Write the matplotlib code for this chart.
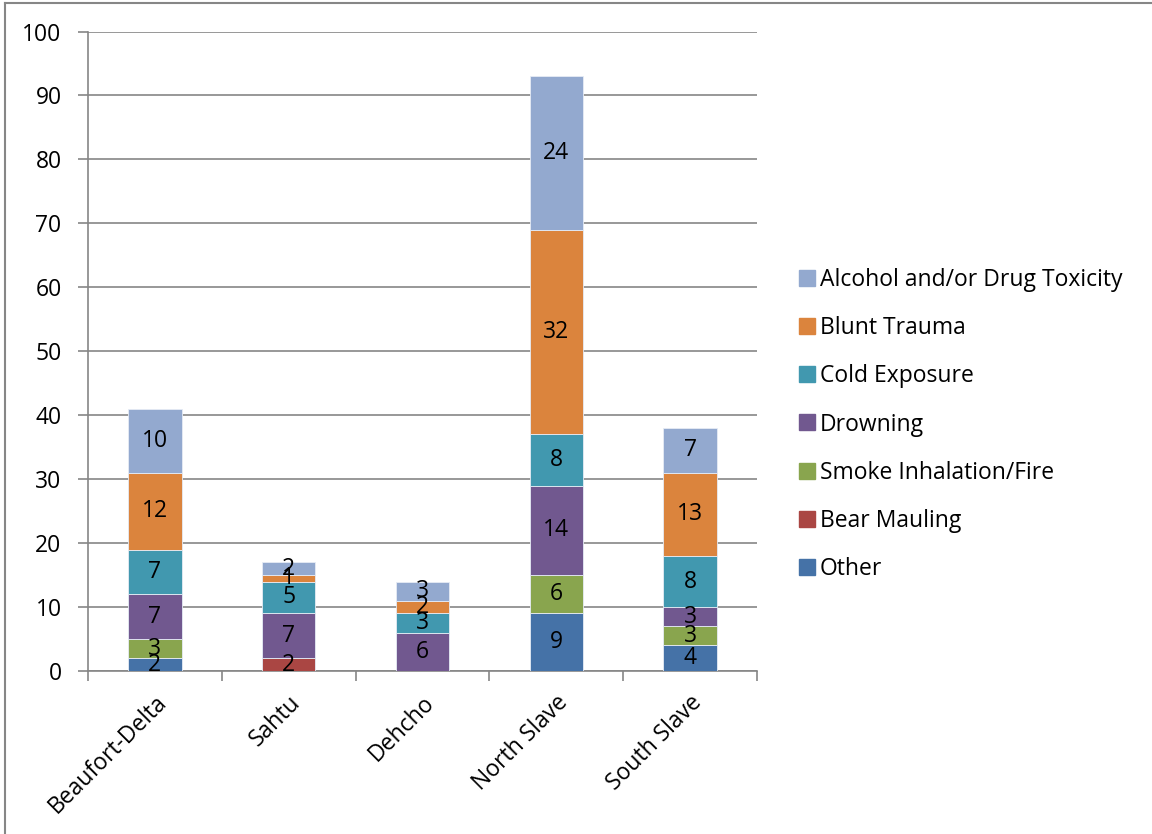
import numpy as np
import matplotlib

matplotlib.use("Agg")
import matplotlib.pyplot as plt
from matplotlib.lines import Line2D

plt.rcParams["font.family"] = ["Open Sans", "DejaVu Sans"]

# regions and causes
regions = ["Beaufort-Delta", "Sahtu", "Dehcho", "North Slave", "South Slave"]
causes = [
    "Other",
    "Bear Mauling",
    "Smoke Inhalation/Fire",
    "Drowning",
    "Cold Exposure",
    "Blunt Trauma",
    "Alcohol and/or Drug Toxicity",
]
other = [2, 0, 0, 9, 4]
bear = [0, 2, 0, 0, 0]
smoke = [3, 0, 0, 6, 3]
drowning = [7, 7, 6, 14, 3]
cold = [7, 5, 3, 8, 8]
blunt = [12, 1, 2, 32, 13]
alcohol = [10, 2, 3, 24, 7]

series = [other, bear, smoke, drowning, cold, blunt, alcohol]
colors = ["#4572A7", "#AA4643", "#89A54E", "#71588F", "#4198AF", "#DB843D", "#93A9CF"]

FS = 16.5

fig = plt.figure(figsize=(11.52, 8.34), dpi=100)
ax = fig.add_axes([0.0764, 0.1954, 0.5807, 0.7668])

x = np.arange(len(regions))
bottom = np.zeros(len(regions))
for vals, col in zip(series, colors):
    vals = np.array(vals, dtype=float)
    ax.bar(x, vals, width=0.4, bottom=bottom, color=col,
           edgecolor="#E6ECF5", linewidth=0.6, zorder=3)
    for xi, b, v in zip(x, bottom, vals):
        if v > 0:
            ax.text(xi, b + v / 2, f"{int(v)}", ha="center", va="center",
                    fontsize=FS, color="black", zorder=4)
    bottom += vals

ax.set_xlim(-0.5, len(regions) - 0.5)
ax.set_ylim(0, 100)
ax.set_yticks(np.arange(0, 101, 10))
ax.yaxis.grid(True, color="#868686", linewidth=1.2, zorder=0)

# category ticks sit between the bars
ax.set_xticks(x)
ax.set_xticklabels(regions, rotation=45, ha="right", rotation_mode="anchor", fontsize=FS)
ax.set_xticks(np.arange(-0.5, len(regions), 1), minor=True)
ax.tick_params(axis="x", which="major", length=0, pad=14)
ax.tick_params(axis="x", which="minor", length=7, width=1.2, color="#868686")
ax.tick_params(axis="y", length=7, width=1.2, color="#868686", labelsize=FS, pad=12)

for side in ["top", "right"]:
    ax.spines[side].set_visible(False)
for side in ["left", "bottom"]:
    ax.spines[side].set_color("#868686")
    ax.spines[side].set_linewidth(1.2)

handles = [Line2D([], [], marker="s", linestyle="none", markersize=12,
                  markerfacecolor=c, markeredgecolor=c) for c in colors[::-1]]
ax.legend(handles, causes[::-1], loc="center left", bbox_to_anchor=(0.691, 0.491),
          bbox_transform=fig.transFigure, frameon=False, fontsize=FS,
          handletextpad=0.05, labelspacing=1.05, handlelength=1.0,
          borderpad=0, borderaxespad=0)

# outer chart border (left and top edges are visible)
fig.add_artist(Line2D([0.0045, 0.0045], [0, 0.997], transform=fig.transFigure,
                      color="#868686", linewidth=1.5))
fig.add_artist(Line2D([0.0045, 1], [0.997, 0.997], transform=fig.transFigure,
                      color="#868686", linewidth=1.5))

fig.savefig("out.png", dpi=100)
